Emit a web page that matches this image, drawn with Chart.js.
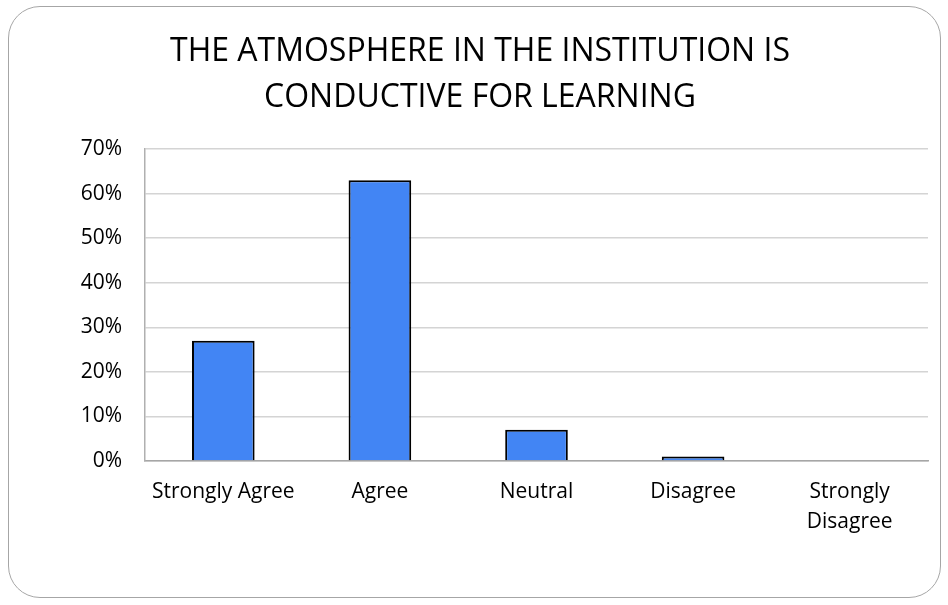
<!DOCTYPE html>
<html>
<head>
<meta charset="utf-8">
<script src="https://cdn.jsdelivr.net/npm/chart.js@4/dist/chart.umd.min.js"></script>
<style>
    html, body { margin: 0; padding: 0; background: #fff; }
    #wrap { position: relative; width: 948px; height: 605px; }
    #frame {
        position: absolute; left: 8px; top: 6px; width: 931px; height: 590px;
        border: 1px solid #a6a6a6; border-radius: 32px; pointer-events: none;
    }
</style>
</head>
<body>
<div id="wrap">
    <canvas id="myChart" width="948" height="605"></canvas>
    <div id="frame"></div>
</div>
<script>
// chart data
const categories = ['Strongly Agree', 'Agree', 'Neutral', 'Disagree', ['Strongly', 'Disagree']];
const shares = [27, 63, 7, 1, 0];
const yTicks = [0, 10, 20, 30, 40, 50, 60, 70];

const chartTitle = ['THE ATMOSPHERE IN THE INSTITUTION IS', 'CONDUCTIVE FOR LEARNING'];

function loadChart() {
    const chartData = {
        labels: categories,
        datasets: [{
            data: shares,
            backgroundColor: '#4285f4',
            borderColor: '#000',
            borderWidth: 2,
            categoryPercentage: 1,
            barPercentage: 0.4
        }]
    };

    const config = {
        type: 'bar',
        data: chartData,
        options: {
            responsive: false,
            animation: false,
            layout: {
                padding: { top: 0, right: 20, bottom: 0, left: 32 }
            },
            plugins: {
                legend: { display: false },
                tooltip: { enabled: false },
                title: {
                    display: true,
                    text: chartTitle,
                    color: '#000',
                    font: { family: 'Open Sans', size: 32, weight: 'normal', lineHeight: 1.4375 },
                    padding: { top: 29, bottom: 28 }
                }
            },
            scales: {
                x: {
                    grid: { display: false, drawTicks: false },
                    border: { display: true, color: '#a6a6a6', width: 1.5 },
                    ticks: {
                        color: '#000',
                        padding: 16,
                        maxRotation: 0,
                        font: { family: 'Open Sans', size: 21, lineHeight: 1.43 }
                    },
                    afterFit: scale => { scale.height = 144; }
                },
                y: {
                    min: 0,
                    max: 70,
                    afterBuildTicks: scale => {
                        scale.ticks = yTicks.map(v => ({ value: v }));
                    },
                    grid: { color: '#d4d4d4', lineWidth: 1.5, drawTicks: false },
                    border: { display: true, color: '#b0b0b0', width: 1.5 },
                    ticks: {
                        color: '#000',
                        padding: 23,
                        font: { family: 'Open Sans', size: 21 },
                        callback: v => v + '%'
                    },
                    afterFit: scale => { scale.width = 113; }
                }
            }
        }
    };

    const ctx = document.getElementById('myChart').getContext('2d');
    if (ctx) {
        new Chart(ctx, config);
    }
}

loadChart();
</script>
</body>
</html>
